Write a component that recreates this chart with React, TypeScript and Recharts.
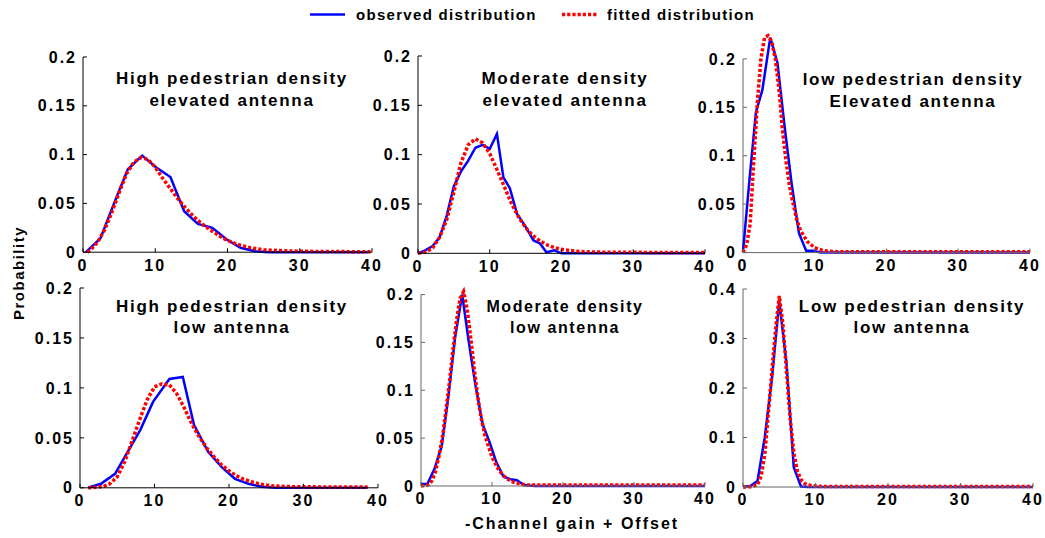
import React from "react";
import { LineChart, Line, XAxis, YAxis, ReferenceLine } from "recharts";

const FONT = '"Liberation Sans", Arial, Helvetica, sans-serif';

const xTicks = [0, 10, 20, 30, 40];
const yTicksLow = [0, 0.05, 0.1, 0.15, 0.2];
const yTicksHigh = [0, 0.1, 0.2, 0.3, 0.4];

const seriesNames = ["observed distribution", "fitted distribution"];
const xLabel = "-Channel gain + Offset";
const yLabel = "Probability";

const titles = [
  ["High pedestrian density", "elevated antenna"],
  ["Moderate density", "elevated antenna"],
  ["low pedestrian density", "Elevated antenna"],
  ["High pedestrian density", "low antenna"],
  ["Moderate density", "low antenna"],
  ["Low pedestrian density", "low antenna"],
];

// top left: high density, elevated antenna
const obs1X = [0.4, 2.4, 4.3, 6.2, 8.2, 10.1, 12.1, 14.0, 15.9, 17.9, 19.9, 21.8, 23.8, 25.7, 27.7, 29.6, 31.6, 33.5, 35.5, 37.4, 39.4];
const obs1Y = [0, 0.014, 0.05, 0.085, 0.099, 0.087, 0.077, 0.042, 0.029, 0.025, 0.013, 0.0045, 0.001, 0, 0, 0, 0, 0, 0, 0, 0];
const fit1X = [0.6, 1, 2, 3, 4, 5, 6, 7, 8, 9, 10, 11, 12, 13, 14, 15, 16, 17, 18, 19, 20, 21, 22, 23, 24, 25, 26, 28, 30, 32, 34, 36, 38, 40];
const fit1Y = [0, 0.002, 0.01, 0.023, 0.041, 0.061, 0.08, 0.092, 0.097, 0.095, 0.087, 0.076, 0.066, 0.056, 0.047, 0.039, 0.032, 0.026, 0.021, 0.016, 0.012, 0.009, 0.0066, 0.0048, 0.0035, 0.0026, 0.002, 0.0014, 0.001, 0.0008, 0.0007, 0.0006, 0.0005, 0.0005];

// top middle: moderate density, elevated antenna
const obs2X = [0, 1, 2, 3, 4, 5, 6, 7, 8, 9, 10, 11, 11.9, 12.8, 13.8, 14.9, 16.1, 17.0, 17.9, 19.0, 20, 22, 24, 26, 28, 30, 32, 34, 36, 38, 40];
const obs2Y = [0, 0.003, 0.007, 0.016, 0.038, 0.068, 0.083, 0.094, 0.107, 0.11, 0.106, 0.121, 0.077, 0.066, 0.04, 0.028, 0.013, 0.01, 0.001, 0.003, 0, 0, 0, 0, 0, 0, 0, 0, 0, 0, 0];
const fit2X = [0, 1, 2, 3, 4, 5, 6, 7, 8, 9, 10, 11, 12, 13, 14, 15, 16, 17, 18, 19, 20, 21, 22, 23, 24, 26, 28, 30, 32, 34, 36, 38, 40];
const fit2Y = [0, 0.001, 0.005, 0.016, 0.034, 0.062, 0.092, 0.11, 0.116, 0.112, 0.101, 0.085, 0.068, 0.051, 0.037, 0.026, 0.018, 0.0125, 0.0085, 0.0058, 0.004, 0.003, 0.0022, 0.0017, 0.0014, 0.0011, 0.001, 0.001, 0.0009, 0.0009, 0.0008, 0.0008, 0.0008];

// top right: low density, elevated antenna
const obs3X = [0, 0.9, 1.8, 2.7, 3.8, 4.8, 5.8, 6.8, 7.8, 8.8, 9.8, 10.8, 12, 14, 16, 18, 20, 22, 24, 26, 28, 30, 32, 34, 36, 38, 40];
const obs3Y = [0.001, 0.075, 0.145, 0.168, 0.222, 0.196, 0.13, 0.07, 0.02, 0.002, 0.002, 0, 0, 0, 0, 0, 0, 0, 0, 0, 0, 0, 0, 0, 0, 0, 0];
const fit3X = [0, 0.5, 1, 1.5, 2, 2.5, 3, 3.5, 4, 4.5, 5, 5.5, 6, 6.5, 7, 7.5, 8, 9, 10, 11, 12, 13, 14, 16, 18, 20, 25, 30, 35, 40];
const fit3Y = [0, 0.008, 0.03, 0.095, 0.155, 0.2, 0.222, 0.224, 0.218, 0.2, 0.17, 0.127, 0.094, 0.068, 0.05, 0.034, 0.023, 0.011, 0.005, 0.0025, 0.0013, 0.001, 0.001, 0.001, 0.001, 0.001, 0.001, 0.001, 0.001, 0.001];

// bottom left: high density, low antenna
const obs4X = [1.1, 2.8, 4.7, 6.4, 8.1, 9.8, 12.0, 13.8, 15.3, 17.2, 19.0, 20.8, 22.6, 24.4, 26.2, 28, 30, 32, 34, 36, 38.6];
const obs4Y = [0, 0.004, 0.014, 0.036, 0.058, 0.086, 0.109, 0.111, 0.063, 0.036, 0.021, 0.009, 0.004, 0.001, 0, 0, 0, 0, 0, 0, 0];
const fit4X = [1.1, 2, 3, 4, 5, 6, 7, 8, 9, 10, 11, 12, 13, 14, 15, 16, 17, 18, 19, 20, 21, 22, 23, 24, 25, 26, 28, 30, 32, 34, 36, 38.6];
const fit4Y = [0, 0.0005, 0.001, 0.004, 0.011, 0.026, 0.047, 0.068, 0.088, 0.101, 0.104, 0.103, 0.094, 0.08, 0.064, 0.051, 0.04, 0.031, 0.023, 0.017, 0.012, 0.0085, 0.006, 0.004, 0.0027, 0.0019, 0.0012, 0.001, 0.0009, 0.0008, 0.0008, 0.0007];

// bottom middle: moderate density, low antenna
const obs5X = [0, 0.9, 1.9, 2.9, 3.8, 4.8, 5.8, 6.7, 7.7, 8.7, 9.6, 10.6, 11.6, 12.6, 13.5, 14.5, 16, 18, 20, 22, 24, 26, 28, 30, 32, 34, 36, 38, 40];
const obs5Y = [0.002, 0.002, 0.018, 0.041, 0.09, 0.155, 0.2, 0.152, 0.104, 0.064, 0.047, 0.025, 0.01, 0.007, 0.006, 0.001, 0, 0, 0, 0, 0, 0, 0, 0, 0, 0, 0, 0, 0];
const fit5X = [0, 1, 1.5, 2, 2.5, 3, 3.5, 4, 4.5, 5, 5.5, 6, 6.5, 7, 7.5, 8, 8.5, 9, 10, 11, 12, 13, 14, 15, 16, 18, 20, 25, 30, 35, 40];
const fit5Y = [0, 0.001, 0.005, 0.014, 0.03, 0.05, 0.078, 0.108, 0.142, 0.173, 0.196, 0.203, 0.185, 0.155, 0.122, 0.093, 0.07, 0.053, 0.03, 0.016, 0.008, 0.004, 0.002, 0.001, 0.001, 0.001, 0.001, 0.001, 0.001, 0.001, 0.001];

// bottom right: low density, low antenna
const obs6X = [0, 1, 2, 3, 4, 5, 6, 7, 8, 9, 10, 15, 20, 25, 30, 35, 40];
const obs6Y = [0, 0.002, 0.012, 0.1, 0.22, 0.375, 0.25, 0.04, 0.001, 0, 0, 0, 0, 0, 0, 0, 0];
const fit6X = [0, 1, 2, 2.5, 3, 3.5, 4, 4.5, 5, 5.5, 6, 6.5, 7, 7.5, 8, 8.5, 9, 10, 11, 15, 20, 25, 30, 35, 40];
const fit6Y = [0, 0.0005, 0.004, 0.022, 0.065, 0.15, 0.235, 0.32, 0.386, 0.33, 0.235, 0.14, 0.07, 0.032, 0.015, 0.007, 0.004, 0.002, 0.001, 0.001, 0.001, 0.001, 0.001, 0.001, 0.001];

const zip = (xs: number[], ys: number[]) => xs.map((x, i) => ({ x, y: ys[i] }));

// pixel layout of each subplot (plot box edges, pixel of y=0 and of the top tick)
const panels = [
  { obs: zip(obs1X, obs1Y), fit: zip(fit1X, fit1Y), yTicks: yTicksLow, yMax: 0.2, left: 83, right: 372, zero: 252.5, topTick: 57.3, axis: "#000", tx: 232, ty: 84, ts: 17 },
  { obs: zip(obs2X, obs2Y), fit: zip(fit2X, fit2Y), yTicks: yTicksLow, yMax: 0.2, left: 418, right: 705, zero: 253, topTick: 55.7, axis: "#000", tx: 565, ty: 84, ts: 17 },
  { obs: zip(obs3X, obs3Y), fit: zip(fit3X, fit3Y), yTicks: yTicksLow, yMax: 0.235, left: 743, right: 1030, zero: 252.7, topTick: 59, axis: "#666", tx: 913, ty: 85, ts: 17 },
  { obs: zip(obs4X, obs4Y), fit: zip(fit4X, fit4Y), yTicks: yTicksLow, yMax: 0.2, left: 80, right: 378, zero: 487.3, topTick: 287.5, axis: "#000", tx: 232, ty: 311.5, ts: 17 },
  { obs: zip(obs5X, obs5Y), fit: zip(fit5X, fit5Y), yTicks: yTicksLow, yMax: 0.21, left: 421, right: 705, zero: 485.7, topTick: 294.3, axis: "#666", tx: 565, ty: 311.5, ts: 16 },
  { obs: zip(obs6X, obs6Y), fit: zip(fit6X, fit6Y), yTicks: yTicksHigh, yMax: 0.4, left: 743, right: 1033, zero: 487.3, topTick: 289.3, axis: "#666", tx: 912, ty: 311.5, ts: 17 },
];

const Y_W = 60;
const X_H = 30;
const PAD_T = 10;
const PAD_R = 10;

const tickStyle = { fill: "#000", fontSize: 16, fontWeight: 700, fontFamily: FONT, letterSpacing: 2 };

function Panel({ p }: { p: any }) {
  const tickMax = p.yTicks[p.yTicks.length - 1];
  const pxPerUnit = (p.zero - p.topTick) / tickMax;
  const plotTop = p.zero - p.yMax * pxPerUnit;
  const plotH = p.zero - plotTop;
  const plotW = p.right - p.left;
  return (
    <div style={{ position: "absolute", left: p.left - Y_W, top: plotTop - PAD_T }}>
      <LineChart
        width={plotW + Y_W + PAD_R}
        height={plotH + PAD_T + X_H}
        margin={{ top: PAD_T, right: PAD_R, bottom: 0, left: 0 }}
      >
        <XAxis
          type="number"
          dataKey="x"
          domain={[0, 40]}
          ticks={xTicks}
          interval={0}
          height={X_H}
          stroke={p.axis}
          tickSize={-4}
          tickMargin={11}
          tick={tickStyle}
        />
        <YAxis
          type="number"
          domain={[0, p.yMax]}
          ticks={p.yTicks}
          interval={0}
          width={Y_W}
          axisLine={false}
          stroke={p.axis}
          tickSize={-4}
          tickMargin={10}
          tick={tickStyle}
        />
        <ReferenceLine segment={[{ x: 0, y: 0 }, { x: 0, y: tickMax }]} stroke={p.axis} strokeWidth={1} />
        <Line
          data={p.obs}
          dataKey="y"
          name={seriesNames[0]}
          type="linear"
          stroke="#0000ff"
          strokeWidth={2.5}
          dot={false}
          activeDot={false}
          isAnimationActive={false}
        />
        <Line
          data={p.fit}
          dataKey="y"
          name={seriesNames[1]}
          type="linear"
          stroke="#ff0000"
          strokeWidth={3.5}
          strokeDasharray="3.2 2"
          dot={false}
          activeDot={false}
          isAnimationActive={false}
        />
      </LineChart>
    </div>
  );
}

export default function App() {
  const txt = { fontFamily: FONT, fontWeight: 700, fill: "#000" } as const;
  return (
    <div style={{ position: "absolute", left: 0, top: 0, width: 1045, height: 538, background: "#fff", overflow: "hidden" }}>
      {panels.map((p, i) => (
        <Panel key={i} p={p} />
      ))}
      <svg width={1045} height={538} style={{ position: "absolute", left: 0, top: 0, pointerEvents: "none" }}>
        {/* legend */}
        <line x1={310} x2={345} y1={14.5} y2={14.5} stroke="#0000ff" strokeWidth={2.5} />
        <text x={356} y={20} fontSize={15} letterSpacing={1.3} {...txt}>{seriesNames[0]}</text>
        <line x1={562} x2={597} y1={14.5} y2={14.5} stroke="#ff0000" strokeWidth={3.5} strokeDasharray="3.2 2" />
        <text x={607} y={20} fontSize={15} letterSpacing={1.3} {...txt}>{seriesNames[1]}</text>

        {panels.map((p, i) => (
          <g key={i}>
            <text x={p.tx} y={p.ty} textAnchor="middle" fontSize={p.ts} letterSpacing={p.ts / 10} {...txt}>{titles[i][0]}</text>
            <text x={p.tx} y={p.ty + 21.5} textAnchor="middle" fontSize={p.ts} letterSpacing={p.ts / 10} {...txt}>{titles[i][1]}</text>
          </g>
        ))}

        <text x={572} y={529} textAnchor="middle" fontSize={16} letterSpacing={2} {...txt}>{xLabel}</text>
        <text x={0} y={0} transform="translate(24 273) rotate(-90)" textAnchor="middle" fontSize={15} letterSpacing={1.5} {...txt}>{yLabel}</text>
      </svg>
    </div>
  );
}
